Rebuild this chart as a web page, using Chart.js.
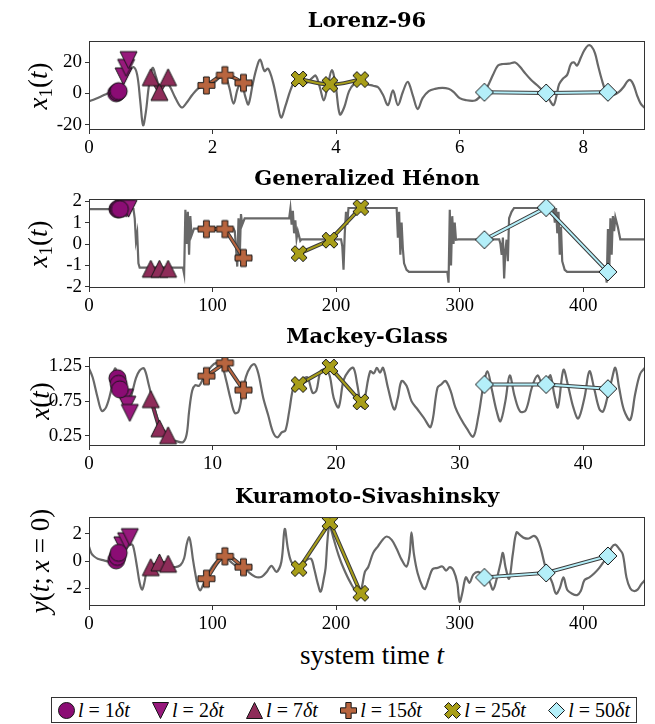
<!DOCTYPE html>
<html>
<head>
<meta charset="utf-8">
<script src="https://cdn.jsdelivr.net/npm/chart.js@4.4.1/dist/chart.umd.min.js"></script>
<style>
  html, body { margin: 0; padding: 0; background: #fff; }
  #page { position: relative; width: 655px; height: 724px; overflow: hidden; font-family: "Liberation Serif", serif; color: #000; }
  .panel { position: absolute; left: 0; width: 655px; height: 158px; }
  .ylab { position: absolute; left: 40px; white-space: nowrap; font-size: 27px; transform: translate(-50%, -50%) rotate(-90deg); }
  .ylab sub { font-size: 0.7em; vertical-align: -0.25em; }
  #xlab { position: absolute; left: 372px; top: 655px; transform: translate(-50%, -50%); font-size: 27px; white-space: nowrap; }
  #legend { position: absolute; left: 51px; top: 697px; width: 586px; height: 26px; box-sizing: border-box;
            border: 1px solid #333; display: flex; align-items: center; justify-content: space-between; padding: 0 6px 0 5px; font-size: 20px; }
  #legend .item { display: flex; align-items: center; white-space: nowrap; }
  #legend canvas { margin-right: 2px; }
</style>
</head>
<body>
<div id="page">
  <div class="panel" style="top:0px"><canvas id="c0" width="655" height="158"></canvas></div>
  <div class="panel" style="top:158px"><canvas id="c1" width="655" height="158"></canvas></div>
  <div class="panel" style="top:316px"><canvas id="c2" width="655" height="158"></canvas></div>
  <div class="panel" style="top:476px"><canvas id="c3" width="655" height="158"></canvas></div>
  <div class="ylab" style="top:86px"><i>x</i><sub>1</sub>(<i>t</i>)</div>
  <div class="ylab" style="top:244px"><i>x</i><sub>1</sub>(<i>t</i>)</div>
  <div class="ylab" style="top:401px"><i>x</i>(<i>t</i>)</div>
  <div class="ylab" style="top:561px"><i>y</i>(<i>t</i>;&#8201;<i>x</i>&#8197;=&#8197;0)</div>
  <div id="xlab">system time <i>t</i></div>
  <div id="legend"></div>
</div>
<script>
// ---------- data ----------
const titles = ["Lorenz-96", "Generalized Hénon", "Mackey-Glass", "Kuramoto-Sivashinsky"];
const lagLabels = ["1", "2", "7", "15", "25", "50"];
const markerKinds = ["circle", "tdown", "tup", "plus", "x", "diamond"];
const markerColors = ["#8b0c74", "#97197c", "#8e2c59", "#b8653f", "#a89e19", "#b4eff9"];
const markerSizes = [17, 17, 17, 17, 16, 18];

// gray trajectories [t, value]
const lorenzLine = [[0,-5],[0.1,-3.5],[0.2,-1.8],[0.3,0],[0.4,1.5],[0.5,3.5],[0.58,9],[0.65,14],[0.72,17],[0.78,12],
  [0.83,-5],[0.875,-20.5],[0.92,-12],[0.97,5],[1.03,16.5],[1.09,10],[1.15,2.5],[1.22,7.5],[1.3,5],[1.4,-3],[1.5,-9],
  [1.58,-6],[1.67,-1],[1.76,3],[1.86,5],[1.96,6],[2.04,7.5],[2.12,10.5],[2.2,12],[2.27,4],[2.34,-6.5],[2.41,3.5],
  [2.47,6.5],[2.53,-2],[2.58,-7],[2.65,6],[2.71,16],[2.77,21.8],[2.84,14.5],[2.9,16],[2.98,7],[3.05,-6],[3.11,-15.5],
  [3.18,-8],[3.26,2],[3.34,8.5],[3.43,9.5],[3.52,7],[3.6,9.5],[3.67,11.5],[3.74,3.5],[3.8,-4.5],[3.86,4],[3.93,15],
  [3.99,6],[4.06,-13.5],[4.13,-9],[4.21,1.5],[4.3,6.5],[4.4,8],[4.5,6],[4.6,5],[4.68,4],[4.76,-1],[4.84,-7.5],[4.92,2],
  [5.0,-7.5],[5.08,1],[5.16,7.5],[5.24,-1],[5.32,-10],[5.4,-3],[5.5,1.5],[5.6,3],[5.72,3.6],[5.82,3],[5.9,1],[6.0,-3],
  [6.1,-4.3],[6.25,-4.5],[6.33,-2],[6.4,0.8],[6.47,6],[6.54,12],[6.62,18],[6.7,19],[6.8,19.2],[6.9,20],[6.98,17],
  [7.05,13.5],[7.15,9],[7.25,5.5],[7.33,2.5],[7.4,0],[7.46,-4.5],[7.52,-7.5],[7.57,-1],[7.61,6],[7.67,9.5],[7.74,12],
  [7.8,19],[7.85,20],[7.9,18],[7.96,23],[8.02,28],[8.08,31],[8.13,30.5],[8.19,26],[8.24,18],[8.3,9],[8.36,2],[8.42,0],
  [8.5,-0.8],[8.58,1],[8.65,4],[8.72,8],[8.77,8.5],[8.82,5],[8.87,-1],[8.93,-6.5],[9.0,-9.5]];

const henonLine = [[0,1.63],[36,1.63],[37,1.2],[38,0.15],[39,0.5],[40,-0.9],[41,-1.1],[76,-1.1],[77,-1.4],[78,1.6],
  [79,0],[80,1.5],[81,-0.5],[82,1.3],[83,0.4],[85,0.72],[117,0.72],[118,0.6],[119,-0.2],[120,-1.05],[121,1.2],[122,-0.6],
  [123,1.4],[124,0.9],[126,1.2],[162,1.2],[163,1.65],[164,0.9],[165,1.55],[166,0.5],[167,1.1],[168,0.25],[169,0.6],
  [171,0.15],[172,0.22],[204,0.22],[205,-0.1],[206,-1.2],[207,0.5],[208,1.5],[209,0.9],[210,1.68],[249,1.68],[250,0.3],
  [251,1.5],[252,-0.5],[253,1.0],[254,-0.2],[255,-0.9],[257,-1.2],[259,-1.3],[290,-1.3],[291,-1.8],[292,1.6],[293,-1.0],
  [294,1.3],[295,0],[296,1.0],[297,0.2],[299,0.22],[332,0.22],[333,0],[334,-0.5],[335,0.3],[336,-1.6],[337,-0.3],
  [338,0.2],[339,-0.8],[340,1.2],[342,1.5],[344,1.68],[376,1.68],[377,1.0],[378,1.68],[379,0.5],[380,1.5],[381,-0.5],
  [382,0.8],[383,-0.8],[385,-1.2],[387,-1.3],[418,-1.3],[419,-1.8],[420,0.7],[421,-1.5],[422,1.2],[423,-0.5],[424,1.3],
  [425,0.6],[426,1.25],[428,0.8],[430,0.22],[450,0.22]];

const mgLine = [[0,1.22],[0.3,1.09],[0.7,0.8],[1.03,0.61],[1.38,0.66],[1.78,0.9],[2.1,1.22],[2.5,1.0],[2.9,0.72],
  [3.2,0.7],[3.5,0.88],[3.8,1.08],[4.1,1.19],[4.45,1.22],[4.83,0.99],[5.2,0.72],[5.6,0.47],[6.0,0.28],[6.5,0.2],
  [7.0,0.18],[7.6,0.16],[7.9,0.27],[8.1,0.6],[8.35,0.9],[8.6,0.98],[8.9,0.97],[9.2,1.06],[9.5,1.15],[9.9,1.25],
  [10.3,1.3],[10.7,1.29],[11.1,1.05],[11.46,0.78],[11.8,0.58],[12.1,0.6],[12.4,0.85],[12.7,1.1],[13.1,1.25],[13.4,1.28],
  [13.7,1.15],[14.1,0.8],[14.5,0.55],[14.9,0.3],[15.25,0.23],[15.6,0.3],[15.9,0.33],[16.2,0.6],[16.6,0.98],[17.0,0.99],
  [17.4,1.08],[17.7,1.09],[18.1,0.87],[18.4,0.9],[18.75,1.18],[19.2,1.2],[19.5,1.1],[19.8,0.8],[20.2,0.66],[20.6,1.05],
  [21.0,1.18],[21.4,1.23],[21.7,1.0],[22.0,0.7],[22.2,0.66],[22.36,0.82],[22.76,1.18],[23.05,1.15],[23.3,1.23],
  [23.55,1.16],[23.8,1.23],[24.2,0.94],[24.7,0.63],[25.0,0.8],[25.3,1.04],[25.7,0.97],[26.1,0.75],[26.6,0.63],
  [27.1,0.51],[27.66,0.38],[28.2,0.94],[28.5,0.99],[28.86,1.04],[29.26,0.9],[29.65,0.66],[30.05,0.51],[30.6,0.35],
  [31.1,0.24],[31.5,0.52],[31.9,0.95],[32.25,1.18],[32.6,0.92],[33.0,0.6],[33.3,0.46],[33.7,0.75],[34.05,1.12],
  [34.45,0.82],[34.9,0.6],[35.35,0.62],[35.85,0.95],[36.3,1.12],[36.7,1.0],[37.1,1.06],[37.35,1.12],[37.65,0.85],
  [37.95,0.66],[38.4,1.2],[38.8,0.95],[39.2,0.66],[39.6,0.5],[40.1,0.8],[40.5,1.18],[40.9,0.92],[41.3,0.64],[41.6,0.6],
  [41.95,0.8],[42.3,1.05],[42.6,1.23],[42.9,0.95],[43.3,0.62],[43.8,0.48],[44.2,0.85],[44.6,1.14],[45.0,1.23]];

const ksLine = [[0,1.05],[2,0.55],[4,0.35],[7,0.17],[12,0.05],[16,-0.05],[20,0],[24,0.2],[28,0.6],[32,1.1],[35,1.2],
  [36.5,0.8],[39,-0.5],[41,-1.6],[43,-2.1],[45,-1.5],[47,-0.6],[50,-0.3],[55,-0.2],[60,-0.3],[65,-0.4],[70,-0.45],
  [74,-0.3],[77,0.2],[79,1.2],[81,1.75],[82.5,1.2],[84,0.2],[86,-0.9],[88,-1.8],[90,-2.15],[92.5,-1.7],[95,-1.2],
  [98.7,-0.55],[102.7,-0.07],[106.6,0.29],[110,0.35],[114.6,-0.05],[119,-0.35],[125,-0.45],[129,-0.8],[134.5,-1.15],
  [139.8,-1.15],[143.8,-0.8],[147.7,-0.35],[151.7,-0.8],[155.7,-0.05],[158.4,2.35],[161,0.9],[163.7,-0.05],[167.6,-0.35],
  [170,-0.5],[175,0],[179.6,0.17],[182.2,-0.55],[185,-1.6],[187.5,-2.25],[190,-1.3],[191.5,-0.5],[193,1.5],[194.5,2.6],
  [196,2.3],[198.1,1.6],[202.1,0.4],[206.1,-0.55],[211.4,-1.55],[216.7,-2.25],[220,-2.15],[223.3,-0.8],[226,-0.44],
  [230,0.6],[234,1.1],[238,1.6],[241,1.8],[245,1.55],[249,0.9],[253,0.1],[257,-0.4],[259.5,0.5],[261,2.1],[263,0.5],
  [266,-0.9],[270,-1.9],[272,-2.05],[275,-1.3],[278,-0.6],[282,-0.5],[286,-0.4],[289,-0.7],[292,-0.45],[295,-0.7],
  [298,-1.6],[300,-3.0],[302,-2.4],[305,-1.2],[308,-1.6],[311,-1.0],[315,-0.8],[318,-1.0],[321,-1.2],[324,-1.5],
  [327,-2.1],[330,-1.3],[333,-0.2],[335,0.6],[337,-0.4],[340,-1.3],[343,0.5],[346,2.1],[349,1.9],[352,1.7],[356,1.65],
  [360,1.85],[363,1.6],[366,0.8],[369,-0.3],[372,-1.0],[375,-1.6],[378,-2.4],[381,-2.0],[384,-1.2],[387,-2.1],[391,-2.4],
  [395,-2.5],[398,-2.2],[401,-1.4],[405,-1.2],[409,-0.9],[413,-0.5],[417,0],[420,0.4],[423,1.0],[426,1.2],[429,0.9],
  [432,0.5],[435,-1.2],[438,-2.0],[441,-2.2],[444,-2.1],[447,-1.7],[450,-1.4]];

// marker series, one row per lag l = 1, 2, 7, 15, 25, 50 (times dt)
const lorenzMarkT = [[0.44,0.46,0.48],[0.56,0.60,0.64],[1.0,1.14,1.28],[1.9,2.2,2.5],[3.4,3.9,4.4],[6.4,7.4,8.4]];
const lorenzMarkY = [[0.2,0.8,1.5],[11,16.5,21.5],[10.5,1,10.5],[5.2,11.8,6.8],[9.3,5.8,9.0],[0.8,0.3,0.8]];
const henonMarkT = [[23,24,25],[28,30,32],[50,57,64],[95,110,125],[170,195,220],[320,370,420]];
const henonMarkY = [[1.63,1.63,1.63],[1.65,1.65,1.65],[-1.15,-1.15,-1.15],[0.7,0.7,-0.65],[-0.45,0.18,1.7],[0.2,1.7,-1.3]];
const mgMarkT = [[2.3,2.4,2.5],[2.9,3.1,3.3],[5.0,5.7,6.4],[9.5,11.0,12.5],[17,19.5,22],[32,37,42]];
const mgMarkY = [[1.08,1.0,0.92],[0.8,0.7,0.58],[0.78,0.36,0.26],[1.11,1.30,0.91],[0.99,1.24,0.74],[0.99,0.99,0.93]];
const ksMarkT = [[22,23,24],[27,30,33],[50,57,64],[95,110,125],[170,195,220],[320,370,420]];
const ksMarkY = [[0.05,0.3,0.6],[1.15,1.45,1.75],[-0.45,-0.1,-0.2],[-1.3,0.35,-0.45],[-0.55,2.85,-2.37],[-1.2,-0.87,0.37]];

// axes
const lorenzXTicks = [0, 2, 4, 6, 8];
const lorenzYTicks = [-20, 0, 20];
const henonXTicks = [0, 100, 200, 300, 400];
const henonYTicks = [-2, -1, 0, 1, 2];
const mgXTicks = [0, 10, 20, 30, 40];
const mgYTicks = [0.25, 0.75, 1.25];
const ksXTicks = [0, 100, 200, 300, 400];
const ksYTicks = [-2, 0, 2];

// ---------- markers ----------
function drawMarker(ctx, kind, x, y, s, fill) {
  const h = s / 2;
  ctx.beginPath();
  if (kind === "circle") ctx.arc(x, y, h, 0, Math.PI * 2);
  else if (kind === "tdown") { ctx.moveTo(x - h, y - h); ctx.lineTo(x + h, y - h); ctx.lineTo(x, y + h); ctx.closePath(); }
  else if (kind === "tup") { ctx.moveTo(x - h, y + h); ctx.lineTo(x + h, y + h); ctx.lineTo(x, y - h); ctx.closePath(); }
  else if (kind === "diamond") { ctx.moveTo(x, y - h); ctx.lineTo(x + h, y); ctx.lineTo(x, y + h); ctx.lineTo(x - h, y); ctx.closePath(); }
  else {
    const pts = kind === "plus"
      ? [[-1,-3],[-1,-1],[-3,-1],[-3,1],[-1,1],[-1,3],[1,3],[1,1],[3,1],[3,-1],[1,-1],[1,-3]].map(p => [p[0] / 6, p[1] / 6])
      : [[-1,-2],[0,-1],[1,-2],[2,-1],[1,0],[2,1],[1,2],[0,1],[-1,2],[-2,1],[-1,0],[-2,-1]].map(p => [p[0] / 4, p[1] / 4]);
    pts.forEach((p, i) => i ? ctx.lineTo(x + p[0] * s, y + p[1] * s) : ctx.moveTo(x + p[0] * s, y + p[1] * s));
    ctx.closePath();
  }
  ctx.fillStyle = fill;
  ctx.fill();
  ctx.lineWidth = 1;
  ctx.strokeStyle = "#161616";
  ctx.stroke();
}
function markerImage(i, s) {
  const c = document.createElement("canvas");
  c.width = c.height = Math.ceil(s + 4);
  drawMarker(c.getContext("2d"), markerKinds[i], c.width / 2, c.height / 2, s, markerColors[i]);
  return c;
}
const markerImgs = markerKinds.map((k, i) => markerImage(i, markerSizes[i]));

// ---------- charts ----------
const serif = '"Liberation Serif", serif';
const framePlugin = {
  id: "frame",
  afterDraw(chart) {
    const { ctx, chartArea: a } = chart;
    ctx.save();
    ctx.strokeStyle = "#333";
    ctx.lineWidth = 1;
    ctx.strokeRect(Math.round(a.left) + 0.5, Math.round(a.top) + 0.5, Math.round(a.right - a.left) - 1, Math.round(a.bottom - a.top) - 1);
    ctx.restore();
  }
};

function toPts(ts, ys) { return ts.map((t, i) => ({ x: t, y: ys[i] })); }

function makePanel(id, title, line, lineTension, markT, markY, markTension, xMax, xTicks, yMin, yMax, yTicks, yDec) {
  const datasets = [];
  markT.forEach((ts, i) => {
    const data = toPts(ts, markY[i]);
    datasets.push({ data, showLine: true, tension: markTension[i], borderColor: markerColors[i], borderWidth: 2,
      pointStyle: markerImgs[i], pointRadius: 8, pointHoverRadius: 8 });
    datasets.push({ data, showLine: true, tension: markTension[i], borderColor: "#3c3c3c", borderWidth: 4, pointRadius: 0 });
  });
  datasets.push({ data: line.map(p => ({ x: p[0], y: p[1] })), showLine: true, tension: lineTension,
    borderColor: "#686868", borderWidth: 2.2, pointRadius: 0 });

  const axisGrid = { drawOnChartArea: false, drawTicks: true, tickLength: 4, color: "#333", lineWidth: 1 };
  return new Chart(document.getElementById(id), {
    type: "scatter",
    data: { datasets },
    options: {
      responsive: false, animation: false, events: [],
      layout: { padding: { left: 0, right: 1, top: 0, bottom: 0 } },
      plugins: {
        legend: { display: false }, tooltip: { enabled: false },
        title: { display: true, text: title, fullSize: false, color: "#000",
                 font: { family: '"DejaVu Serif", serif', weight: "bold", size: 21, lineHeight: 1.15 }, padding: { top: 9, bottom: 7.85 } }
      },
      scales: {
        x: { type: "linear", min: 0, max: xMax,
             afterBuildTicks: s => { s.ticks = xTicks.map(v => ({ value: v })); },
             afterFit: s => { s.height = 28; },
             grid: axisGrid, border: { display: false },
             ticks: { color: "#000", font: { family: serif, size: 19 }, padding: 3, maxRotation: 0, autoSkip: false } },
        y: { type: "linear", min: yMin, max: yMax,
             afterBuildTicks: s => { s.ticks = yTicks.map(v => ({ value: v })); },
             afterFit: s => { s.width = 89; },
             grid: axisGrid, border: { display: false },
             ticks: { color: "#000", font: { family: serif, size: 19 }, padding: 3, autoSkip: false,
                      callback: v => v.toFixed(yDec) } }
      }
    },
    plugins: [framePlugin]
  });
}

makePanel("c0", titles[0], lorenzLine, 0.35, lorenzMarkT, lorenzMarkY, [0, 0, 0, 0.4, 0.4, 0],
  9, lorenzXTicks, -23.5, 33.8, lorenzYTicks, 0);
makePanel("c1", titles[1], henonLine, 0, henonMarkT, henonMarkY, [0, 0, 0, 0, 0, 0],
  450, henonXTicks, -2.05, 2.1, henonYTicks, 0);
makePanel("c2", titles[2], mgLine, 0.35, mgMarkT, mgMarkY, [0, 0, 0, 0, 0, 0],
  45, mgXTicks, 0.105, 1.385, mgYTicks, 2);
makePanel("c3", titles[3], ksLine, 0.35, ksMarkT, ksMarkY, [0, 0, 0, 0.4, 0, 0],
  450, ksXTicks, -3.3, 3.23, ksYTicks, 0);

// ---------- legend ----------
const legend = document.getElementById("legend");
lagLabels.forEach((lab, i) => {
  const item = document.createElement("span");
  item.className = "item";
  const c = document.createElement("canvas");
  c.width = 19; c.height = 19;
  drawMarker(c.getContext("2d"), markerKinds[i], 9.5, 9.5, 16, markerColors[i]);
  item.appendChild(c);
  const t = document.createElement("span");
  t.innerHTML = "<i>l</i>&#8197;=&#8197;" + lab + "<i>δt</i>";
  item.appendChild(t);
  legend.appendChild(item);
});
</script>
</body>
</html>
